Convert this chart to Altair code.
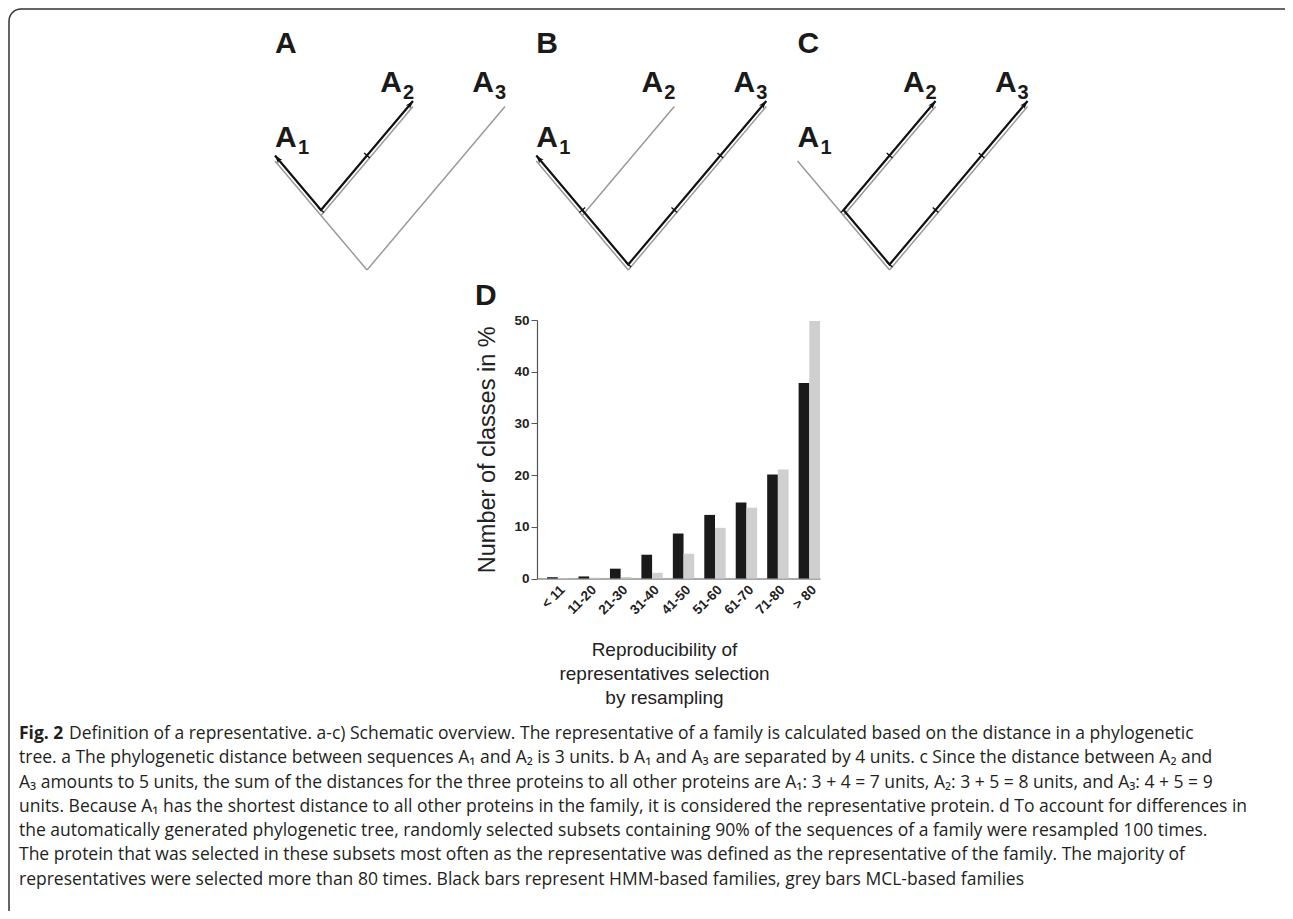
import math
import altair as alt
import pandas as pd

# ---------------- data ----------------
CATEGORIES = ["< 11", "11-20", "21-30", "31-40", "41-50", "51-60", "61-70", "71-80", "> 80"]
SERIES = ["HMM-based", "MCL-based"]
HMM_PCT = [0.25, 0.4, 1.9, 4.6, 8.7, 12.3, 14.7, 20.1, 37.8]
MCL_PCT = [0.1, 0.15, 0.3, 1.1, 4.8, 9.8, 13.7, 21.1, 49.8]
SERIES_COLORS = ["#1a1a1a", "#cfcfcf"]

NODE_NAMES = ["R", "N", "A1", "A2", "A3"]
NODE_X = [0, -1, -2, 1, 3]          # tree units (branch steps)
NODE_Y = [0, 1, 2, 3, 3]
TREE_EDGES = [("N", "A1"), ("R", "N"), ("N", "A2"), ("R", "A3")]
PANELS = ["A", "B", "C"]
PANEL_PATHS = [["A1", "N", "A2"], ["A1", "N", "R", "A3"], ["A2", "N", "R", "A3"]]
LEAVES = ["A1", "A2", "A3"]
LEAF_DIGITS = ["1", "2", "3"]

Y_TITLE = "Number of classes in %"
X_TITLE = ["Reproducibility of", "representatives selection", "by resampling"]

CAPTION_FIG = "Fig. 2"
CAPTION_FIRST = ("Definition of a representative. a-c) Schematic overview. The representative of a family "
                 "is calculated based on the distance in a phylogenetic")
CAPTION_REST = [
    "tree. a The phylogenetic distance between sequences A\u2081 and A\u2082 is 3 units. b A\u2081 and A\u2083 are "
    "separated by 4 units. c Since the distance between A\u2082 and",
    "A\u2083 amounts to 5 units, the sum of the distances for the three proteins to all other proteins are "
    "A\u2081: 3 + 4 = 7 units, A\u2082: 3 + 5 = 8 units, and A\u2083: 4 + 5 = 9",
    "units. Because A\u2081 has the shortest distance to all other proteins in the family, it is considered "
    "the representative protein. d To account for differences in",
    "the automatically generated phylogenetic tree, randomly selected subsets containing 90% of the "
    "sequences of a family were resampled 100 times.",
    "The protein that was selected in these subsets most often as the representative was defined as the "
    "representative of the family. The majority of",
    "representatives were selected more than 80 times. Black bars represent HMM-based families, grey bars "
    "MCL-based families",
]

# ---------------- layout ----------------
PAD_L, PAD_T, OVER = 1, 1, 12
W, H = 1277 - PAD_L + OVER, 903 - PAD_T + OVER   # view extends past the page edge (frame is cut off)
UX, UY = 46.0, 54.5               # px per tree unit
ROOT_X0 = 358 / UX                # panel A root (tree units)
PANEL_STEP = 5.68
ROOT_Y_PX = 261
DELTA = 5.5 / UY                  # black path drawn slightly above grey
FONT = "Liberation Sans"
CAP_FONT = "Open Sans"
X_AXIS_Y = 569.5
Y_AXIS_X = 528

node = {n: (x, y) for n, x, y in zip(NODE_NAMES, NODE_X, NODE_Y)}


def screen_angle(dx, dy):
    sx, sy = dx * UX, -dy * UY
    return math.degrees(math.atan2(sx, -sy)) % 360


gray_rows, black_rows, tick_rows, arrow_rows, letter_rows, leaf_rows = [], [], [], [], [], []
for pi, (p, path) in enumerate(zip(PANELS, PANEL_PATHS)):
    ox = ROOT_X0 + pi * PANEL_STEP
    for ei, (a, b) in enumerate(TREE_EDGES):
        for k, n in enumerate((a, b)):
            gray_rows.append({"seg": f"{p}{ei}", "k": k, "x": ox + node[n][0], "y": node[n][1]})
    for k, n in enumerate(path):
        black_rows.append({"panel": p, "k": k, "x": ox + node[n][0], "y": node[n][1] + DELTA})
    for j in range(len(path) - 1):
        a, b = node[path[j]], node[path[j + 1]]
        L = abs(b[0] - a[0])
        ang = screen_angle(b[0] - a[0], b[1] - a[1])
        for t in range(0 if j > 0 else 1, L):
            tick_rows.append({"x": ox + a[0] + (b[0] - a[0]) * t / L,
                              "y": a[1] + (b[1] - a[1]) * t / L + DELTA, "angle": ang})
    f, s = node[path[0]], node[path[1]]
    arrow_rows.append({"x": ox + f[0], "y": f[1] + DELTA, "angle": screen_angle(f[0] - s[0], f[1] - s[1])})
    l, q = node[path[-1]], node[path[-2]]
    arrow_rows.append({"x": ox + l[0], "y": l[1] + DELTA, "angle": screen_angle(l[0] - q[0], l[1] - q[1])})
    letter_rows.append({"x": ox + node["A1"][0], "y": 3.98, "t": p})
    for leaf, d in zip(LEAVES, LEAF_DIGITS):
        leaf_rows.append({"x": ox + node[leaf][0], "y": node[leaf][1], "leaf": leaf, "A": "A", "d": d})

tx = alt.Scale(domain=[0, W / UX], nice=False, zero=False)
ty = alt.Scale(domain=[-(H - ROOT_Y_PX) / UY, ROOT_Y_PX / UY], nice=False, zero=False)
X = lambda: alt.X("x:Q", scale=tx, axis=None)
Y = lambda: alt.Y("y:Q", scale=ty, axis=None)

gray = alt.Chart(pd.DataFrame(gray_rows)).mark_line(color="#9a9a9a", strokeWidth=1.5).encode(
    x=X(), y=Y(), detail="seg:N", order="k:Q")
black = alt.Chart(pd.DataFrame(black_rows)).mark_line(color="#111111", strokeWidth=2.2).encode(
    x=X(), y=Y(), detail="panel:N", order="k:Q")
ticks = alt.Chart(pd.DataFrame(tick_rows)).mark_point(
    shape="stroke", filled=False, color="#111111", strokeWidth=1.4, size=56, opacity=1).encode(
    x=X(), y=Y(), angle=alt.Angle("angle:Q", scale=None))
arrows = alt.Chart(pd.DataFrame(arrow_rows)).mark_point(
    shape="M0,0L0.8,2.3L0,1.7L-0.8,2.3Z", filled=True, color="#111111", size=50, opacity=1).encode(
    x=X(), y=Y(), angle=alt.Angle("angle:Q", scale=None))
letters = alt.Chart(pd.DataFrame(letter_rows)).mark_text(
    align="left", baseline="alphabetic", font=FONT, fontSize=30, fontWeight="bold", color="#1a1a1a").encode(
    x=X(), y=Y(), text="t:N")
leaf_df = pd.DataFrame(leaf_rows)
left_leaf = alt.Chart(leaf_df).transform_filter(alt.datum.leaf == "A1")
right_leaf = alt.Chart(leaf_df).transform_filter(alt.datum.leaf != "A1")
lab_style = dict(baseline="alphabetic", font=FONT, fontWeight="bold", color="#1a1a1a")
leaf_A_left = left_leaf.mark_text(align="left", dy=-14, fontSize=30, **lab_style).encode(x=X(), y=Y(), text="A:N")
leaf_d_left = left_leaf.mark_text(align="left", dx=23, dy=-7, fontSize=20, **lab_style).encode(x=X(), y=Y(), text="d:N")
leaf_A_right = right_leaf.mark_text(align="right", dx=-11, dy=-15, fontSize=30, **lab_style).encode(x=X(), y=Y(), text="A:N")
leaf_d_right = right_leaf.mark_text(align="right", dx=1, dy=-8, fontSize=20, **lab_style).encode(x=X(), y=Y(), text="d:N")

trees = alt.layer(gray, black, ticks, arrows, letters, leaf_A_left, leaf_d_left, leaf_A_right, leaf_d_right)

# ---------------- bar chart (panel D) ----------------
bars_df = pd.DataFrame({
    "category": CATEGORIES * 2,
    "series": [SERIES[0]] * len(CATEGORIES) + [SERIES[1]] * len(CATEGORIES),
    "pct": HMM_PCT + MCL_PCT,
})
bars = alt.Chart(bars_df).mark_bar().encode(
    x=alt.X("category:N", sort=CATEGORIES,
            scale=alt.Scale(range=[Y_AXIS_X, Y_AXIS_X + 283], paddingInner=0.32, paddingOuter=0.16, align=1),
            axis=alt.Axis(orient="bottom", offset=X_AXIS_Y - H, ticks=False, labelAngle=-45,
                          labelFont=FONT, labelFontSize=13.5, labelFontWeight="bold", labelColor="#222222",
                          labelPadding=4, domainColor="#555555", domainWidth=1.2,
                          title=X_TITLE, titleFont=FONT, titleFontSize=19, titleFontWeight="normal",
                          titleColor="#222222", titlePadding=24, titleLineHeight=24, titleX=655)),
    xOffset=alt.XOffset("series:N", sort=SERIES, scale=alt.Scale(paddingInner=0, paddingOuter=0)),
    y=alt.Y("pct:Q", scale=alt.Scale(domain=[0, 50], range=[X_AXIS_Y, 311], nice=False),
            axis=alt.Axis(orient="left", offset=-Y_AXIS_X, values=[0, 10, 20, 30, 40, 50], grid=False,
                          tickSize=6, tickColor="#555555", domainColor="#555555", domainWidth=1.2,
                          labelFont=FONT, labelFontSize=13.5, labelFontWeight="bold", labelColor="#222222",
                          labelPadding=2, title=Y_TITLE, titleFont=FONT, titleFontSize=23.5,
                          titleFontWeight="normal", titleColor="#222222", titlePadding=14)),
    color=alt.Color("series:N", scale=alt.Scale(domain=SERIES, range=SERIES_COLORS), legend=None),
)

# ---------------- annotations & caption ----------------
one = pd.DataFrame({"z": [0]})
d_label = alt.Chart(one).mark_text(
    align="left", baseline="alphabetic", font=FONT, fontSize=30, fontWeight="bold", color="#1a1a1a",
    text="D").encode(x=alt.value(466), y=alt.value(296))
cap_style = dict(align="left", baseline="alphabetic", font=CAP_FONT, fontSize=17.5, color="#231f20")
cap_fig = alt.Chart(one).mark_text(fontWeight="bold", text=CAPTION_FIG, **cap_style).encode(
    x=alt.value(10), y=alt.value(730))
cap_first = alt.Chart(one).mark_text(text=CAPTION_FIRST, **cap_style).encode(
    x=alt.value(60), y=alt.value(730))
cap_rest = alt.Chart(one).mark_text(text=CAPTION_REST, lineHeight=24.3, **cap_style).encode(
    x=alt.value(10), y=alt.value(754.3))

chart = alt.layer(trees, bars, d_label, cap_fig, cap_first, cap_rest).resolve_scale(
    x="independent", y="independent"
).properties(
    width=W, height=H, padding={"left": PAD_L, "top": PAD_T, "right": -OVER, "bottom": -OVER},
    autosize=alt.AutoSizeParams(type="none"),
).configure_view(stroke="#333333", strokeWidth=1.5, cornerRadius=12)

chart.save("out.html", embed_options={"renderer": "svg", "actions": False})
